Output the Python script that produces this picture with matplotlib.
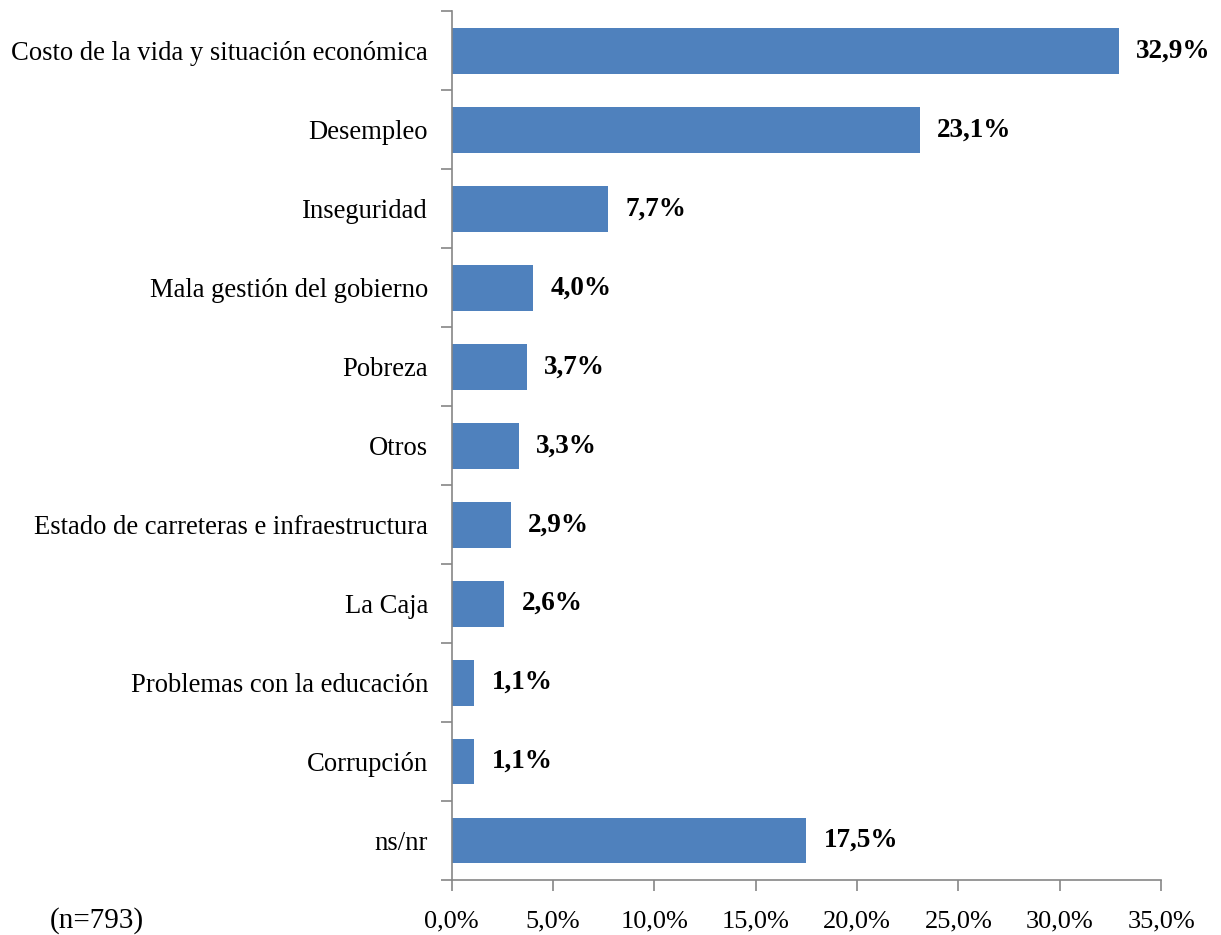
import matplotlib
matplotlib.use('Agg')
import matplotlib.pyplot as plt
from matplotlib.ticker import FixedLocator, FuncFormatter

CATEGORIES = [
    "Costo de la vida y situación económica",
    "Desempleo",
    "Inseguridad",
    "Mala gestión del gobierno",
    "Pobreza",
    "Otros",
    "Estado de carreteras e infraestructura",
    "La Caja",
    "Problemas con la educación",
    "Corrupción",
    "ns/nr",
]
VALUES = [32.9, 23.1, 7.7, 4.0, 3.7, 3.3, 2.9, 2.6, 1.1, 1.1, 17.5]
X_TICKS = [0, 5, 10, 15, 20, 25, 30, 35]

BAR_COLOR = "#4F81BD"
AXIS_COLOR = "#868686"

plt.rcParams['font.family'] = ['Liberation Serif', 'DejaVu Serif']

fig = plt.figure(figsize=(12.21, 9.35), dpi=100)
ax = fig.add_axes([0.370, 0.0588, 0.581, 0.929])

ypos = list(range(len(CATEGORIES)))
ax.barh(ypos, VALUES, height=0.58, color=BAR_COLOR)

ax.set_xlim(0, 35)
ax.set_ylim(len(CATEGORIES) - 0.5, -0.5)

ax.set_xticks(X_TICKS)
ax.xaxis.set_major_formatter(FuncFormatter(lambda v, p: f"{v:.1f}%".replace(".", ",")))
ax.set_yticks(ypos)
ax.set_yticklabels(CATEGORIES)
ax.yaxis.set_minor_locator(FixedLocator([i - 0.5 for i in range(len(CATEGORIES) + 1)]))

ax.tick_params(axis='y', which='major', length=0, pad=17, labelsize=19.2)
ax.tick_params(axis='y', which='minor', length=8, width=1.2, color=AXIS_COLOR)
ax.tick_params(axis='x', which='major', length=8, width=1.2, color=AXIS_COLOR, pad=14, labelsize=19)

for side in ["top", "right"]:
    ax.spines[side].set_visible(False)
for side in ["left", "bottom"]:
    ax.spines[side].set_color(AXIS_COLOR)
    ax.spines[side].set_linewidth(1.2)

for y, v in zip(ypos, VALUES):
    ax.annotate(f"{v:.1f}%".replace(".", ","), (v, y), xytext=(12.5, 0),
                textcoords="offset points", va="center", ha="left",
                fontsize=19.5, fontweight="bold")

fig.text(0.041, 0.015, "(n=793)", fontsize=21, ha="left", va="center")

fig.savefig("out.png", dpi=100)
